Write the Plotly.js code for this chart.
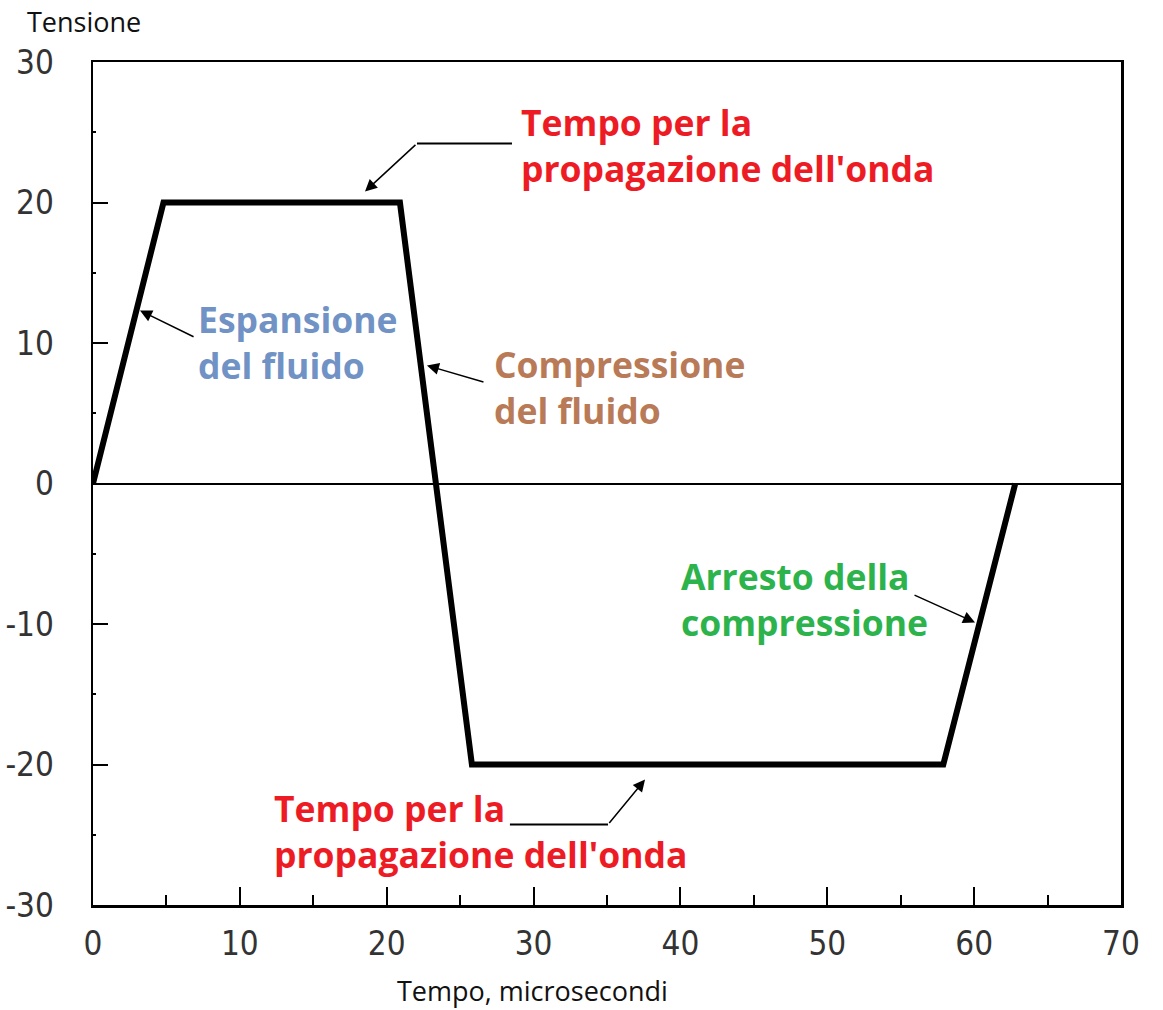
<!DOCTYPE html>
<html>
<head>
<meta charset="utf-8">
<script src="https://cdn.plot.ly/plotly-3.0.1.min.js"></script>
<style>html,body{margin:0;padding:0;background:#fff;}#chart{width:1163px;height:1010px;}</style>
</head>
<body>
<div id="chart"></div>
<script>
// Data
const tempo = [0, 4.8, 20.9, 25.8, 57.9, 62.8];
const tensione = [0, 20, 20, -20, -20, 0];

// Tick labels
const xTickVals = [0, 10, 20, 30, 40, 50, 60, 70];
const xTickText = ["0", "10", "20", "30", "40", "50", "60", "70"];
const yTickVals = [30, 20, 10, 0, -10, -20, -30];
const yTickText = ["30", "20", "10", "0", "-10", "-20", "-30"];

// Labels
const labelTexts = [
  "Tempo per la<br>propagazione dell'onda",
  "Espansione<br>del fluido",
  "Compressione<br>del fluido",
  "Tempo per la<br>propagazione dell'onda",
  "Arresto della<br>compressione"
];
const labelColors = ["#ED1C24", "#7092C4", "#B97A57", "#ED1C24", "#2DB34C"];
const labelX = [29.0, 7.0, 27.2, 12.2, 39.9];
const labelY = [24.1, 10.1, 6.9, -24.7, -8.2];

// Arrows: tip and tail
const arrowTipX = [18.52, 3.2, 22.74, 37.59, 60.06];
const arrowTipY = [20.78, 12.31, 8.40, -21.07, -9.89];
const arrowTailX = [22.06, 6.95, 26.69, 35.07, 55.84];
const arrowTailY = [24.2, 10.39, 7.19, -24.27, -7.9];

// Leader lines (horizontal)
const leaderX0 = [22.06, 28.39];
const leaderX1 = [28.53, 35.07];
const leaderY = [24.2, -24.27];

const annotations = [];
labelTexts.forEach((t, i) => {
  annotations.push({
    x: labelX[i], y: labelY[i], xref: 'x', yref: 'y',
    text: '<b>' + t + '</b>', showarrow: false,
    xanchor: 'left', yanchor: 'middle', align: 'left',
    font: {family: 'Open Sans, Noto Sans, sans-serif', size: 35.5, color: labelColors[i]}
  });
});
arrowTipX.forEach((x, i) => {
  annotations.push({
    x: x, y: arrowTipY[i], xref: 'x', yref: 'y',
    ax: arrowTailX[i], ay: arrowTailY[i], axref: 'x', ayref: 'y',
    text: '', showarrow: true, arrowhead: 2, arrowsize: 1.6, arrowwidth: 1.5,
    arrowcolor: '#000', standoff: 0
  });
});
annotations.push({
  x: 0, y: 1, xref: 'paper', yref: 'paper', xshift: -68, yshift: 41,
  text: 'Tensione', showarrow: false, xanchor: 'left', yanchor: 'middle',
  font: {family: 'Open Sans, sans-serif', size: 27, color: '#111'}
});
annotations.push({
  x: (532 - 93) / (1121 - 93), y: 0, xref: 'paper', yref: 'paper', yshift: -85,
  showarrow: false, text: 'Tempo, microsecondi', xanchor: 'center', yanchor: 'middle',
  font: {family: 'Open Sans, sans-serif', size: 27, color: '#111'}
});

const shapes = leaderX0.map((x0, i) => ({
  type: 'line', xref: 'x', yref: 'y', x0: x0, x1: leaderX1[i], y0: leaderY[i], y1: leaderY[i],
  line: {color: '#000', width: 2}
}));

const tickFont = {family: 'Liberation Sans Narrow, DejaVu Sans Condensed, Arial Narrow, sans-serif', size: 33, color: '#333'};

const trace = {
  x: tempo, y: tensione, type: 'scatter', mode: 'lines',
  line: {color: '#000', width: 6}, hoverinfo: 'skip'
};

const layout = {
  width: 1163, height: 1010,
  margin: {l: 93, r: 42, t: 62, b: 105},
  paper_bgcolor: '#fff', plot_bgcolor: '#fff',
  showlegend: false,
  xaxis: {
    range: [0, 70], tickvals: xTickVals, ticktext: xTickText,
    ticks: 'inside', ticklen: 18, tickwidth: 2, tickcolor: '#000',
    minor: {dtick: 5, tick0: 0, ticks: 'inside', ticklen: 10, tickwidth: 2, tickcolor: '#000', showgrid: false},
    showline: true, mirror: true, linecolor: '#000', linewidth: 2.5,
    showgrid: false, zeroline: false, tickfont: tickFont, ticklabelstandoff: 8, fixedrange: true
  },
  yaxis: {
    range: [-30, 30], tickvals: yTickVals, ticktext: yTickText,
    ticks: 'inside', ticklen: 15, tickwidth: 2, tickcolor: '#000',
    minor: {dtick: 5, tick0: 0, ticks: 'inside', ticklen: 3, tickwidth: 2, tickcolor: '#000', showgrid: false},
    showline: true, mirror: true, linecolor: '#000', linewidth: 2.5,
    showgrid: false, zeroline: true, zerolinecolor: '#000', zerolinewidth: 2,
    tickfont: tickFont, ticklabelstandoff: 30, fixedrange: true
  },
  annotations: annotations,
  shapes: shapes
};

Plotly.newPlot('chart', [trace], layout, {displayModeBar: false, staticPlot: true});
</script>
</body>
</html>
